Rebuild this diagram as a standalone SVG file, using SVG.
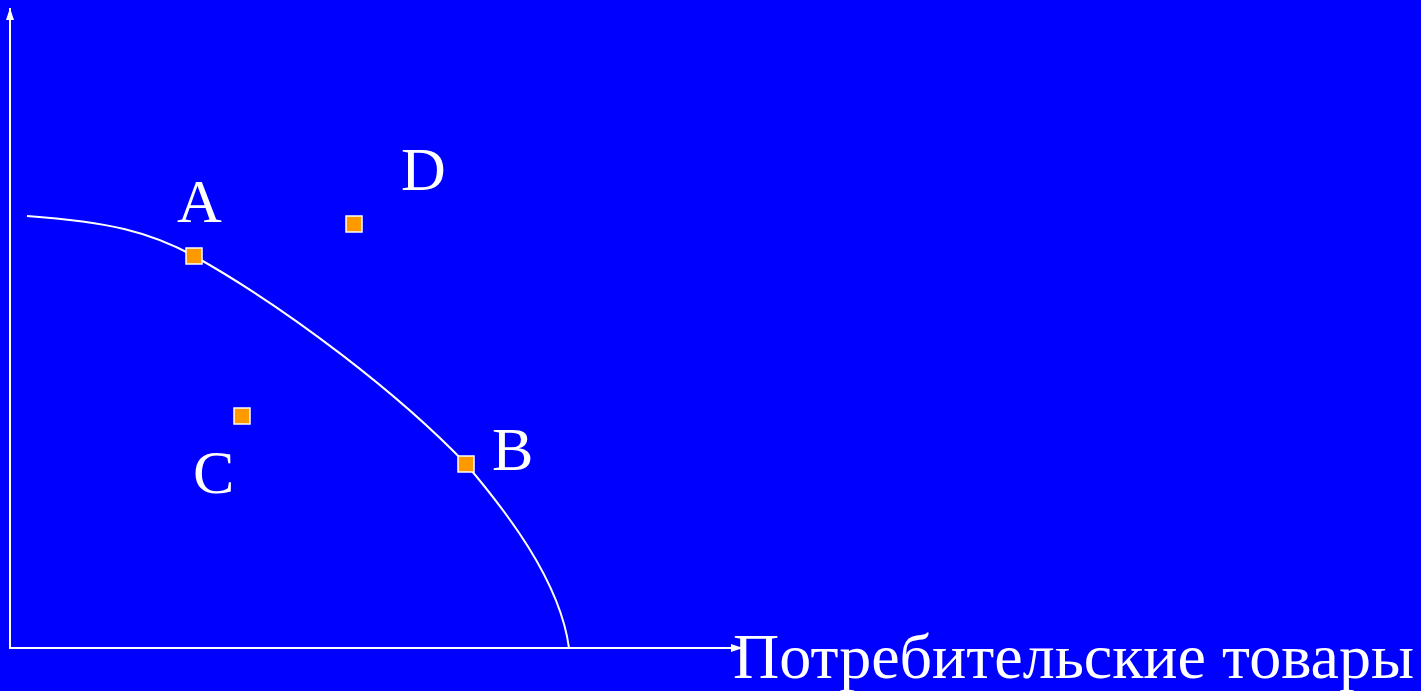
<svg xmlns="http://www.w3.org/2000/svg" width="1421" height="691" viewBox="0 0 1421 691">
<style>
.lbl{font-family:"Liberation Serif","Times New Roman",serif;font-size:62px;fill:#fff}
.ax{font-size:64px}
.pt{fill:#FF9900;stroke:#fff;stroke-width:1.5}
.ln{stroke:#fff;stroke-width:2;fill:none}
</style>
<defs>
<marker id="ah" viewBox="0 0 12 10" refX="12" refY="5" markerWidth="12" markerHeight="10" markerUnits="userSpaceOnUse" orient="auto">
<path d="M0,1 L12,5 L0,9 z" fill="#fff"/>
</marker>
</defs>
<rect width="1421" height="691" fill="#0000FF"/>
<g id="connectors">
<line class="ln" x1="10" y1="649" x2="10" y2="8" marker-end="url(#ah)"/>
<line class="ln" x1="9" y1="648" x2="743" y2="648" marker-end="url(#ah)"/>
<path class="ln" d="M27,216 C110,222 150,232 194,256 C290,310 400,395 466,464 C505,510 560,580 569,648"/>
</g>
<g id="axis-label"><text class="lbl ax" x="733" y="678">Потребительские товары</text></g>
<g id="A"><rect class="pt" x="186" y="248" width="16" height="16"/><text class="lbl" x="177" y="222">A</text></g>
<g id="D"><rect class="pt" x="346" y="216" width="16" height="16"/><text class="lbl" x="401" y="190">D</text></g>
<g id="C"><rect class="pt" x="234" y="408" width="16" height="16"/><text class="lbl" x="193" y="493">C</text></g>
<g id="B"><rect class="pt" x="458" y="456" width="16" height="16"/><text class="lbl" x="492" y="470">B</text></g>
</svg>
